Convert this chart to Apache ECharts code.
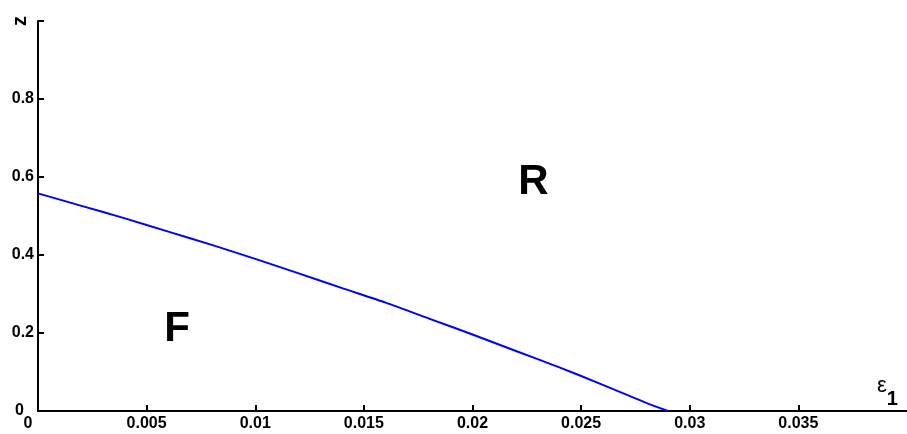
<!DOCTYPE html>
<html>
<head>
<meta charset="utf-8">
<script src="https://cdn.jsdelivr.net/npm/echarts@6/dist/echarts.min.js"></script>
<style>html,body{margin:0;padding:0;background:#fff;}#c{width:907px;height:434px;}</style>
</head>
<body>
<div id="c"></div>
<script>
// boundary curve between region F and region R
const epsilon = [0, 0.002, 0.004, 0.006, 0.008, 0.010, 0.012, 0.014, 0.016, 0.018, 0.020, 0.022, 0.024, 0.026, 0.028, 0.029];
const zValues = [0.558, 0.526, 0.494, 0.460, 0.426, 0.390, 0.353, 0.315, 0.278, 0.237, 0.196, 0.154, 0.112, 0.067, 0.021, 0.000];
const xTicks = [0, 0.005, 0.01, 0.015, 0.02, 0.025, 0.03, 0.035];
const yTicks = [0, 0.2, 0.4, 0.6, 0.8];
const regionLabels = [
  {name: 'R', x: 0.0228, y: 0.587},
  {name: 'F', x: 0.0064, y: 0.208}
];

const FONT = 'Liberation Sans, Arial, sans-serif';
const chart = echarts.init(document.getElementById('c'));
chart.setOption({
  animation: false,
  backgroundColor: '#fff',
  grid: {left: 38, right: -5, top: 21, bottom: 23, containLabel: false},
  xAxis: {
    type: 'value', min: 0, max: 0.04, interval: 0.005,
    axisLine: {show: true, lineStyle: {color: '#000', width: 2}},
    axisTick: {show: true, inside: true, length: 6, lineStyle: {color: '#000', width: 2}},
    splitLine: {show: false},
    axisLabel: {
      color: '#000', fontFamily: FONT, fontWeight: 'bold', fontSize: 16, margin: 5,
      showMaxLabel: false,
      formatter: v => {
        if (Math.abs(v) < 1e-12) return '{z|0}';
        return xTicks.some(t => Math.abs(t - v) < 1e-9) ? String(+v.toFixed(4)) : '';
      },
      rich: {z: {color: '#000', fontFamily: FONT, fontWeight: 'bold', fontSize: 16, padding: [0, 20, 0, 0]}}
    }
  },
  yAxis: {
    type: 'value', min: 0, max: 1, interval: 0.2,
    axisLine: {show: true, lineStyle: {color: '#000', width: 2}},
    axisTick: {show: true, inside: true, length: 6, lineStyle: {color: '#000', width: 2}},
    splitLine: {show: false},
    axisLabel: {
      color: '#000', fontFamily: FONT, fontWeight: 'bold', fontSize: 16, margin: 4,
      formatter: v => {
        if (Math.abs(v) < 1e-12) return '{z|0}';
        return yTicks.some(t => Math.abs(t - v) < 1e-9) ? String(+v.toFixed(1)) : '';
      },
      rich: {z: {color: '#000', fontFamily: FONT, fontWeight: 'bold', fontSize: 16, padding: [0, 10, 0, 0]}}
    }
  },
  series: [
    {
      type: 'line', smooth: 0.2, showSymbol: false,
      data: epsilon.map((e, i) => [e, zValues[i]]),
      lineStyle: {color: '#0000ff', width: 2},
      silent: true
    },
    {
      type: 'scatter', symbol: 'circle', symbolSize: 1,
      itemStyle: {opacity: 1, color: 'rgba(0,0,0,0)'},
      data: regionLabels.map(d => ({value: [d.x, d.y], name: d.name})),
      label: {show: true, position: 'inside', formatter: p => p.name,
        color: '#000', fontFamily: FONT, fontWeight: 'bold', fontSize: 42},
      silent: true
    }
  ],
  graphic: [
    {
      type: 'text', x: 20, y: 21, rotation: Math.PI / 2,
      style: {text: 'z', fontFamily: FONT, fontWeight: 'bold', fontSize: 20, fill: '#000',
        align: 'center', verticalAlign: 'middle'}
    },
    {
      type: 'text', x: 877, y: 375,
      style: {
        text: '{e|ε}{s|1}',
        rich: {
          e: {fontFamily: FONT, fontSize: 22, fill: '#000', verticalAlign: 'top'},
          s: {fontFamily: FONT, fontSize: 20, fontWeight: 'bold', fill: '#000', padding: [14, 0, 0, 0]}
        }
      }
    }
  ]
});
</script>
</body>
</html>
